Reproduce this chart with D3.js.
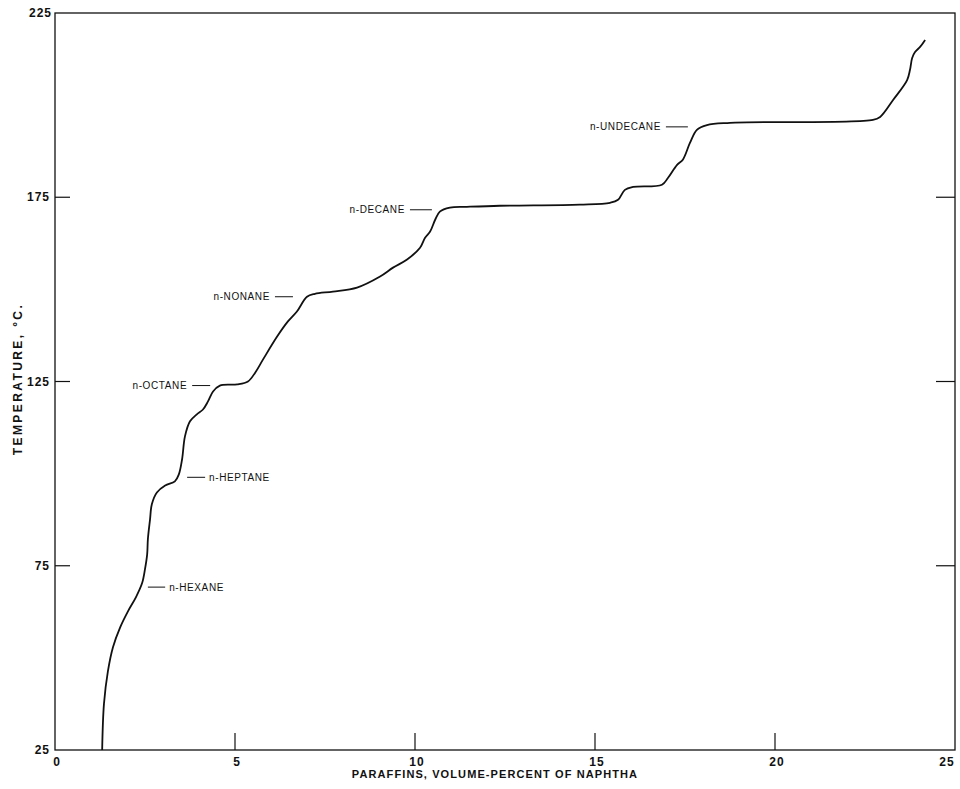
<!DOCTYPE html>
<html>
<head>
<meta charset="utf-8">
<script src="https://cdn.jsdelivr.net/npm/d3@7"></script>
<style>
  body { margin: 0; background: #fff; }
  svg { display: block; }
</style>
</head>
<body>
<div id="chart"></div>
<script>
// distillation curve: paraffins (vol-% of naphtha) vs temperature (deg C)
var paraffins = [1.31, 1.36, 1.47, 1.61, 1.81, 2.03, 2.25, 2.42, 2.5, 2.56, 2.58, 2.64, 2.69, 2.83, 3.06, 3.33, 3.44,
  3.53, 3.61, 3.75, 3.94, 4.11, 4.25, 4.39, 4.58, 5.06, 5.36, 5.56, 5.78, 6.17, 6.47, 6.72, 7.0,
  7.22, 7.72, 8.39, 9.03, 9.39, 9.78, 10.14, 10.28, 10.42, 10.56, 10.69, 10.97, 11.44, 12.36, 14.58, 15.42,
  15.64, 15.83, 16.06, 16.86, 17.03, 17.28, 17.44, 17.64, 17.83, 18.11, 18.75, 22.72, 22.92, 23.28,
  23.67, 23.75, 23.81, 23.89, 24.03, 24.17];
var temperature = [25.0, 37.5, 46.4, 52.9, 58.3, 62.7, 66.5, 70.3, 74.1, 78.1, 82.2, 87.6, 91.7, 94.9, 96.8, 97.9, 99.8,
  103.9, 110.1, 114.2, 116.1, 117.4, 119.6, 122.3, 123.9, 124.2, 125.0, 127.4, 131.0, 137.2, 141.3, 144.0, 148.0,
  148.8, 149.4, 150.5, 153.5, 155.9, 158.1, 161.3, 164.0, 165.7, 168.9, 171.1, 172.2, 172.4, 172.7, 173.0, 173.5,
  174.3, 177.0, 177.8, 178.4, 180.3, 183.8, 185.2, 189.8, 193.3, 194.6, 195.2, 196.0, 196.8, 201.4,
  206.8, 209.6, 212.8, 214.4, 215.8, 217.7];

// compound labels: text, temperature of leader, leader start/end (x units), side of text
var compNames = ["n-HEXANE", "n-HEPTANE", "n-OCTANE", "n-NONANE", "n-DECANE", "n-UNDECANE"];
var compTemps = [69.2, 99.0, 123.9, 148.0, 171.6, 194.1];
var leadFrom = [2.58, 3.67, 3.81, 6.11, 9.86, 16.97];
var leadTo = [3.06, 4.17, 4.31, 6.61, 10.47, 17.58];
var textLeft = [false, false, true, true, true, true]; // true = text sits left of the leader

var xTicks = [0, 5, 10, 15, 20, 25];
var yTicks = [25, 75, 125, 175, 225];

var width = 960, height = 789;
var svg = d3.select("#chart").append("svg")
    .attr("width", width)
    .attr("height", height);

var x = d3.scaleLinear().domain([0, 25]).range([55, 955]);
var y = d3.scaleLinear().domain([25, 225]).range([750, 13]);

var ink = "#111";

// frame
svg.append("rect")
    .attr("x", x(0)).attr("y", y(225))
    .attr("width", x(25) - x(0)).attr("height", y(25) - y(225))
    .attr("fill", "none").attr("stroke", ink).attr("stroke-width", 1.3);

// inward ticks on bottom, left and right
svg.append("g").selectAll("line")
    .data(xTicks.slice(1, -1)).enter().append("line")
    .attr("x1", d => x(d)).attr("x2", d => x(d))
    .attr("y1", y(25)).attr("y2", y(25) - 17)
    .attr("stroke", ink).attr("stroke-width", 1.2);
svg.append("g").selectAll("line")
    .data(yTicks.slice(1, -1)).enter().append("line")
    .attr("x1", x(0)).attr("x2", x(0) + 15)
    .attr("y1", d => y(d)).attr("y2", d => y(d))
    .attr("stroke", ink).attr("stroke-width", 1.2);
svg.append("g").selectAll("line")
    .data(yTicks.slice(1, -1)).enter().append("line")
    .attr("x1", x(25)).attr("x2", x(25) - 19)
    .attr("y1", d => y(d)).attr("y2", d => y(d))
    .attr("stroke", ink).attr("stroke-width", 1.2);

// tick labels
var numFont = "'Liberation Sans', Arial, sans-serif";
svg.append("g").selectAll("text")
    .data(xTicks).enter().append("text")
    .attr("x", d => d == 25 ? x(d) - 8 : x(d) + 2).attr("y", 766)
    .attr("text-anchor", "middle")
    .attr("font-family", numFont).attr("font-weight", "bold").attr("font-size", "12px")
    .attr("letter-spacing", "1px").attr("fill", ink)
    .text(d => d);
svg.append("g").selectAll("text")
    .data(yTicks).enter().append("text")
    .attr("x", d => d == 225 ? 52 : 50).attr("y", d => y(d) + 4)
    .attr("text-anchor", "end")
    .attr("font-family", numFont).attr("font-weight", "bold").attr("font-size", "12px")
    .attr("letter-spacing", "1px").attr("fill", ink)
    .text(d => d);

// axis titles
svg.append("text")
    .attr("x", 495).attr("y", 778)
    .attr("text-anchor", "middle")
    .attr("font-family", numFont).attr("font-weight", "bold").attr("font-size", "11px")
    .attr("letter-spacing", "1.1px").attr("fill", ink)
    .text("PARAFFINS, VOLUME-PERCENT OF NAPHTHA");
svg.append("text")
    .attr("transform", "translate(22,379) rotate(-90)")
    .attr("text-anchor", "middle")
    .attr("font-family", numFont).attr("font-weight", "bold").attr("font-size", "12px")
    .attr("letter-spacing", "2.4px").attr("fill", ink)
    .text("TEMPERATURE, °C.");

// the curve
var pts = paraffins.map((p, i) => [p, temperature[i]]);
var line = d3.line()
    .x(d => x(d[0]))
    .y(d => y(d[1]))
    .curve(d3.curveCatmullRom.alpha(0.5));
svg.append("path")
    .datum(pts)
    .attr("d", line)
    .attr("fill", "none")
    .attr("stroke", ink)
    .attr("stroke-width", 1.8)
    .attr("stroke-linejoin", "round");

// compound labels with leaders
var comps = compNames.map((n, i) => ({name: n, t: compTemps[i], a: leadFrom[i], b: leadTo[i], left: textLeft[i]}));
var cg = svg.append("g");
cg.selectAll("line")
    .data(comps).enter().append("line")
    .attr("x1", d => x(d.a)).attr("x2", d => x(d.b))
    .attr("y1", d => y(d.t)).attr("y2", d => y(d.t))
    .attr("stroke", ink).attr("stroke-width", 1);
cg.selectAll("text")
    .data(comps).enter().append("text")
    .attr("x", d => d.left ? x(d.a) - 5 : x(d.b) + 4)
    .attr("y", d => y(d.t) + 3.5)
    .attr("text-anchor", d => d.left ? "end" : "start")
    .attr("font-family", numFont).attr("font-size", "10px")
    .attr("letter-spacing", "0.6px").attr("fill", ink)
    .text(d => d.name);
</script>
</body>
</html>
